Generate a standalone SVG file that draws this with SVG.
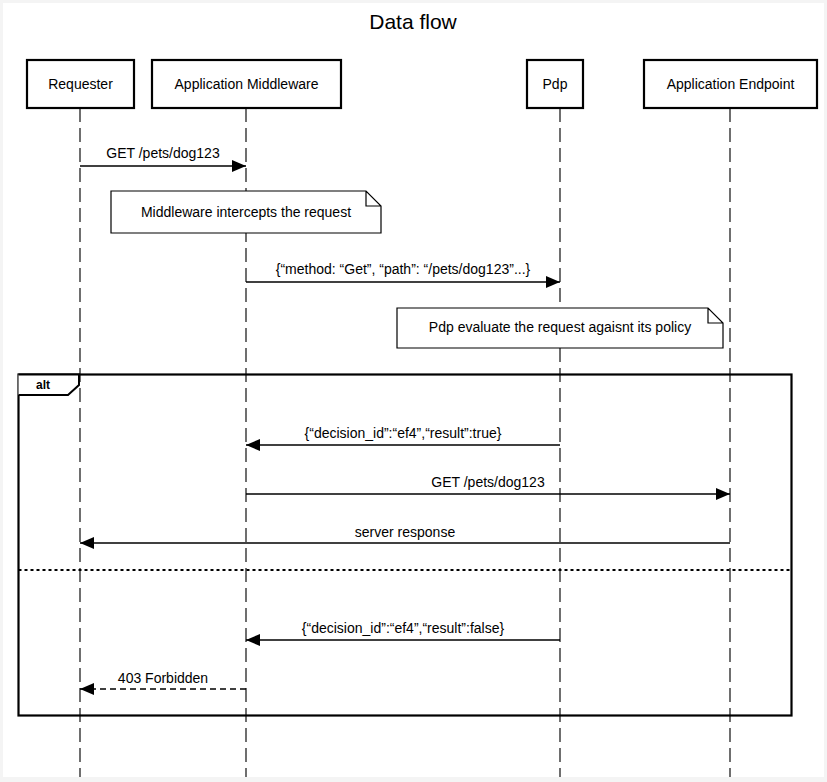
<svg xmlns="http://www.w3.org/2000/svg" width="827" height="782" viewBox="0 0 827 782">
<defs>
<style>
text{font-family:"Liberation Sans",Arial,sans-serif;fill:#000}
.part rect{fill:#fff;stroke:#000;stroke-width:2.2}
.part text{font-size:14px;text-anchor:middle}
.life{stroke:#222;stroke-width:1.3;stroke-dasharray:14 6;fill:none}
.msg{stroke:#000;stroke-width:1.3;fill:none}
.dash{stroke-dasharray:6 4}
.lbl{font-size:14px;text-anchor:middle}
.note path{fill:#fff;stroke:#000;stroke-width:1.2}
.note text{font-size:14px;text-anchor:middle}
</style>
<marker id="ah" viewBox="0 0 14 12" refX="14" refY="6" markerWidth="14" markerHeight="12" markerUnits="userSpaceOnUse" orient="auto">
<path d="M0,0 L14,6 L0,12 Z" fill="#000"/>
</marker>
</defs>
<rect x="0" y="0" width="827" height="782" fill="#f4f4f4"/>
<rect x="3" y="3" width="821" height="774" fill="#fff"/>
<text x="413" y="29" font-size="21" text-anchor="middle">Data flow</text>
<g id="lifelines">
<line class="life" x1="80" y1="108" x2="80" y2="777"/>
<line class="life" x1="246" y1="108" x2="246" y2="777"/>
<line class="life" x1="560" y1="108" x2="560" y2="777"/>
<line class="life" x1="730" y1="108" x2="730" y2="777"/>
</g>
<g id="requester" class="part"><rect x="27" y="60" width="107" height="48"/><text x="80.5" y="89">Requester</text></g>
<g id="middleware" class="part"><rect x="152" y="60" width="189" height="48"/><text x="246.5" y="89">Application Middleware</text></g>
<g id="pdp" class="part"><rect x="527" y="60" width="56" height="48"/><text x="555" y="89">Pdp</text></g>
<g id="endpoint" class="part"><rect x="644" y="60" width="173" height="48"/><text x="730.5" y="89">Application Endpoint</text></g>
<g id="note1" class="note"><path d="M111,191 H366 L381,206 V233 H111 Z M366,191 V206 H381"/><text x="246" y="217">Middleware intercepts the request</text></g>
<g id="note2" class="note"><path d="M397,308 H708 L723,323 V348 H397 Z M708,308 V323 H723"/><text x="560" y="332">Pdp evaluate the request agaisnt its policy</text></g>
<g id="alt">
<rect x="18.5" y="374.5" width="773" height="341" fill="none" stroke="#000" stroke-width="2.2"/>
<path d="M18.5,374.5 H79 V385 L68,395 H18.5" fill="#fff" stroke="#000" stroke-width="2"/>
<text x="43" y="389" font-size="12" font-weight="bold" text-anchor="middle">alt</text>
<line x1="18.5" y1="570" x2="791.5" y2="570" stroke="#000" stroke-width="2" stroke-dasharray="3 3"/>
</g>
<g id="connectors">
<line class="msg" x1="80" y1="166" x2="246" y2="166" marker-end="url(#ah)"/>
<text class="lbl" x="163" y="158">GET /pets/dog123</text>
<line class="msg" x1="246" y1="282" x2="560" y2="282" marker-end="url(#ah)"/>
<text class="lbl" x="403" y="274">{“method: “Get”, “path”: “/pets/dog123”...}</text>
<line class="msg" x1="560" y1="445" x2="246" y2="445" marker-end="url(#ah)"/>
<text class="lbl" x="403" y="438">{“decision_id”:“ef4”,“result”:true}</text>
<line class="msg" x1="246" y1="494" x2="730" y2="494" marker-end="url(#ah)"/>
<text class="lbl" x="488" y="487">GET /pets/dog123</text>
<line class="msg" x1="730" y1="543" x2="80" y2="543" marker-end="url(#ah)"/>
<text class="lbl" x="405" y="537">server response</text>
<line class="msg" x1="560" y1="640" x2="246" y2="640" marker-end="url(#ah)"/>
<text class="lbl" x="403" y="633">{“decision_id”:“ef4”,“result”:false}</text>
<line class="msg dash" x1="246" y1="689" x2="80" y2="689" marker-end="url(#ah)"/>
<text class="lbl" x="163" y="683">403 Forbidden</text>
</g>
</svg>
